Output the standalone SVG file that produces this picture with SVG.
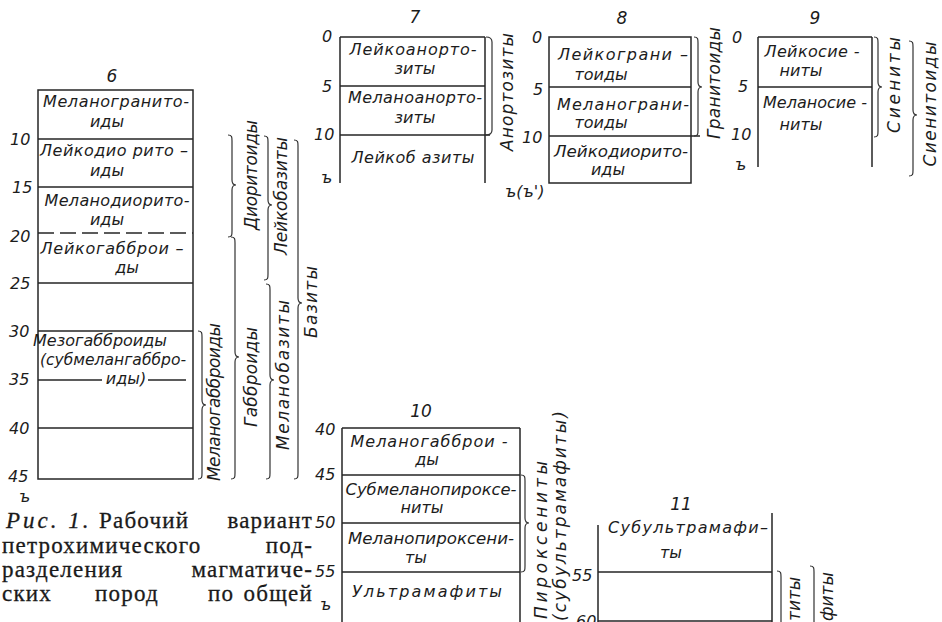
<svg xmlns="http://www.w3.org/2000/svg" width="942" height="622" viewBox="0 0 942 622">
<style>
.bg{fill:#ffffff}
.ln{stroke:#262626;stroke-width:1.5;fill:none}
.dl{stroke:#262626;stroke-width:1.5;fill:none;stroke-dasharray:16 6}
.br{stroke:#333;stroke-width:1.2;fill:none}
.t{font-family:"DejaVu Sans",sans-serif;font-style:italic;font-size:16px;fill:#1c1c1c;text-anchor:middle}
.n{font-family:"DejaVu Sans",sans-serif;font-style:italic;font-size:16px;fill:#1c1c1c}
.h{font-family:"DejaVu Sans",sans-serif;font-style:italic;font-size:17px;fill:#1c1c1c;text-anchor:middle}
.r{font-family:"DejaVu Sans",sans-serif;font-style:italic;font-size:17px;fill:#1c1c1c;text-anchor:middle}
.rs{font-family:"DejaVu Sans",sans-serif;font-style:italic;font-size:17px;fill:#1c1c1c;text-anchor:start}
.c{font-family:"Liberation Serif",serif;font-size:23px;fill:#1a1a1a;stroke:#1a1a1a;stroke-width:0.3;letter-spacing:1.2px}
.ce{font-family:"Liberation Serif",serif;font-size:23px;fill:#1a1a1a;stroke:#1a1a1a;stroke-width:0.3;letter-spacing:1.2px;text-anchor:end}
.ci{font-family:"Liberation Serif",serif;font-size:23px;font-style:italic;fill:#1a1a1a;stroke:#1a1a1a;stroke-width:0.3;letter-spacing:3px}
</style>
<rect class="bg" x="0" y="0" width="942" height="622"/>

<g id="col6">
<text class="h" x="112" y="82">6</text>
<rect class="ln" x="38" y="90" width="155" height="389"/>
<path class="ln" d="M38 139H193M38 187H193M38 283H193M38 331H193M38 428H193M38 380H102M148 380H186"/>
<path class="dl" d="M38 233H193"/>
<text class="n" x="10" y="145">10</text>
<text class="n" x="12" y="193">15</text>
<text class="n" x="10" y="242">20</text>
<text class="n" x="10" y="289">25</text>
<text class="n" x="9" y="337">30</text>
<text class="n" x="9" y="385">35</text>
<text class="n" x="9" y="434">40</text>
<text class="n" x="8" y="482">45</text>
<text class="n" x="19" y="502">ъ</text>
<text class="t" x="116" y="107" textLength="146" lengthAdjust="spacing">Меланогранито-</text>
<text class="t" x="107" y="127">иды</text>
<text class="t" x="114" y="156" textLength="148" lengthAdjust="spacing">Лейкодио рито –</text>
<text class="t" x="107" y="176">иды</text>
<text class="t" x="117" y="206" textLength="145" lengthAdjust="spacing">Меланодиорито-</text>
<text class="t" x="107" y="225">иды</text>
<text class="t" x="112" y="254" textLength="143" lengthAdjust="spacing">Лейкогабброи –</text>
<text class="t" x="127" y="273">ды</text>
<text class="t" x="100" y="346">Мезогабброиды</text>
<text class="t" x="113" y="365" textLength="146" lengthAdjust="spacingAndGlyphs">(субмелангаббро-</text>
<text class="t" x="126" y="384">иды)</text>
</g>

<g id="col7">
<text class="h" x="415" y="23">7</text>
<path class="ln" d="M340 37H485M340 37V183M485 37V183M340 86H485M340 135H490"/>
<text class="n" x="322" y="42">0</text>
<text class="n" x="322" y="92">5</text>
<text class="n" x="314" y="140">10</text>
<text class="n" x="321" y="183">ъ</text>
<text class="t" x="413" y="55" textLength="127" lengthAdjust="spacing">Лейкоанорто-</text>
<text class="t" x="415" y="74">зиты</text>
<text class="t" x="415" y="103" textLength="134" lengthAdjust="spacing">Меланоанорто-</text>
<text class="t" x="415" y="123">зиты</text>
<text class="t" x="413" y="163" textLength="123" lengthAdjust="spacing">Лейкоб азиты</text>
</g>

<g id="col8">
<text class="h" x="622" y="24">8</text>
<rect class="ln" x="549" y="37" width="142" height="146"/>
<path class="ln" d="M549 87H691M549 136H700"/>
<text class="n" x="532" y="43">0</text>
<text class="n" x="533" y="95">5</text>
<text class="n" x="522" y="143">10</text>
<text class="n" x="505" y="197">ъ(ъ')</text>
<text class="t" x="623" y="60" textLength="130" lengthAdjust="spacing">Лейкограни –</text>
<text class="t" x="601" y="80">тоиды</text>
<text class="t" x="623" y="110" textLength="132" lengthAdjust="spacing">Меланограни-</text>
<text class="t" x="601" y="128">тоиды</text>
<text class="t" x="621" y="157" textLength="134" lengthAdjust="spacingAndGlyphs">Лейкодиорито-</text>
<text class="t" x="608" y="175">иды</text>
</g>

<g id="col9">
<text class="h" x="815" y="24">9</text>
<path class="ln" d="M758 37H872M758 37V167M872 37V167M758 87H872"/>
<text class="n" x="732" y="43">0</text>
<text class="n" x="738" y="92">5</text>
<text class="n" x="731" y="140">10</text>
<text class="n" x="735" y="170">ъ</text>
<text class="t" x="812" y="57" textLength="95" lengthAdjust="spacing">Лейкосие -</text>
<text class="t" x="801" y="76">ниты</text>
<text class="t" x="815" y="108" textLength="104" lengthAdjust="spacing">Меланосие -</text>
<text class="t" x="801" y="130">ниты</text>
</g>

<g id="col10">
<text class="h" x="421" y="417">10</text>
<path class="ln" d="M342 428H520M342 428V622M520 428V622M342 475H520M342 523H520M342 572H520"/>
<text class="n" x="315" y="435">40</text>
<text class="n" x="315" y="480">45</text>
<text class="n" x="315" y="528">50</text>
<text class="n" x="315" y="577">55</text>
<text class="n" x="320" y="610">ъ</text>
<text class="t" x="429" y="447" textLength="157" lengthAdjust="spacing">Меланогабброи -</text>
<text class="t" x="427" y="465">ды</text>
<text class="t" x="431" y="495" textLength="171" lengthAdjust="spacingAndGlyphs">Субмеланопироксе-</text>
<text class="t" x="422" y="513">ниты</text>
<text class="t" x="431" y="544" textLength="166" lengthAdjust="spacingAndGlyphs">Меланопироксени-</text>
<text class="t" x="416" y="563">ты</text>
<text class="t" x="427" y="597" textLength="150" lengthAdjust="spacing">Ультрамафиты</text>
</g>

<g id="col11">
<text class="h" x="681" y="510">11</text>
<path class="ln" d="M598 525V622M772 513V622M598 572H772M598 621H772"/>
<text class="n" x="572" y="581">55</text>
<text class="n" x="576" y="627">60</text>
<text class="t" x="688" y="533" textLength="160" lengthAdjust="spacing">Субультрамафи–</text>
<text class="t" x="671" y="558">ты</text>
</g>

<g id="connectors">
<path class="br" d="M198 331C202 331 202 333 202 337L202 400C202 403 203 405 206 405C203 405 202 407 202 410L202 473C202 477 202 479 198 479"/>
<path class="br" d="M228 135C232 135 232 137 232 141L232 180C232 183 233 185 236 185C233 185 232 187 232 190L232 231C232 235 232 237 228 237"/>
<path class="br" d="M231 237C235 237 235 239 235 243L235 352C235 355 236 357 239 357C236 357 235 359 235 362L235 473C235 477 235 479 231 479"/>
<path class="br" d="M264 136C268 136 268 138 268 142L268 200C268 203 269 205 272 205C269 205 268 207 268 210L268 274C268 278 268 280 264 280"/>
<path class="br" d="M266 284C270 284 270 286 270 290L270 375C270 378 271 380 274 380C271 380 270 382 270 385L270 473C270 477 270 479 266 479"/>
<path class="br" d="M294 140C298 140 298 142 298 146L298 298C298 301 299 303 302 303C299 303 298 305 298 308L298 473C298 477 298 479 294 479"/>
<path class="br" d="M486 37Q492 37 492 42L492 130Q492 135 486 135"/>
<path class="br" d="M694 37C698 37 698 39 698 43L698 82C698 85 699 87 702 87C699 87 698 89 698 92L698 130C698 134 698 136 694 136"/>
<path class="br" d="M874 37C878 37 878 39 878 43L878 82C878 85 879 87 882 87C879 87 878 89 878 92L878 131C878 135 878 137 874 137"/>
<path class="br" d="M909 41C913 41 913 43 913 47L913 110C913 113 914 115 917 115C914 115 913 117 913 120L913 170C913 174 913 176 909 176"/>
<path class="br" d="M521 475C525 475 525 477 525 481L525 518C525 521 526 523 529 523C526 523 525 525 525 528L525 566C525 570 525 572 521 572"/>
<path class="br" d="M777 571C781 571 781 573 781 577L781 625"/>
<path class="br" d="M810 566C814 566 814 568 814 572L814 625"/>
</g>

<g id="group-labels">
<text class="r" transform="translate(220 402) rotate(-90)" textLength="158" lengthAdjust="spacing">Меланогабброиды</text>
<text class="r" transform="translate(257 175) rotate(-90)" textLength="110" lengthAdjust="spacing">Диоритоиды</text>
<text class="r" transform="translate(257 377) rotate(-90)" textLength="100" lengthAdjust="spacing">Габброиды</text>
<text class="r" transform="translate(287 196) rotate(-90)" textLength="118" lengthAdjust="spacing">Лейкобазиты</text>
<text class="r" transform="translate(289 375) rotate(-90)" textLength="150" lengthAdjust="spacing">Меланобазиты</text>
<text class="r" transform="translate(317 302) rotate(-90)" textLength="72" lengthAdjust="spacing">Базиты</text>
<text class="r" transform="translate(513 92) rotate(-90)" textLength="118" lengthAdjust="spacing">Анортозиты</text>
<text class="r" transform="translate(720 83) rotate(-90)" textLength="112" lengthAdjust="spacing">Гранитоиды</text>
<text class="r" transform="translate(900 85) rotate(-90)" textLength="96" lengthAdjust="spacing">Сиениты</text>
<text class="r" transform="translate(936 104) rotate(-90)" textLength="125" lengthAdjust="spacing">Сиенитоиды</text>
<text class="r" transform="translate(547 540) rotate(-90)" textLength="158" lengthAdjust="spacing">Пироксениты</text>
<text class="r" transform="translate(566 516) rotate(-90)" textLength="210" lengthAdjust="spacing">(субультрамафиты)</text>
<text class="rs" transform="translate(800 621) rotate(-90)">титы</text>
<text class="rs" transform="translate(833 621) rotate(-90)">фиты</text>
</g>

<g id="caption">
<text class="ci" x="6" y="528">Рис. 1.</text>
<text class="c" x="99" y="528">Рабочий</text>
<text class="ce" x="313" y="528">вариант</text>
<text class="c" x="2" y="553">петрохимического</text>
<text class="ce" x="313" y="553">под-</text>
<text class="c" x="2" y="577">разделения</text>
<text class="ce" x="313" y="577">магматиче-</text>
<text class="c" x="2" y="601">ских</text>
<text class="c" x="95" y="601">пород</text>
<text class="c" x="208" y="601">по</text>
<text class="ce" x="313" y="601">общей</text>
</g>
</svg>
